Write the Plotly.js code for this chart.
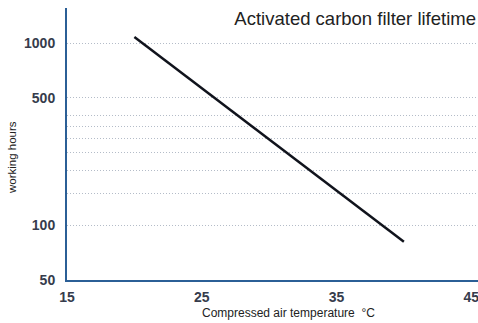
<!DOCTYPE html>
<html>
<head>
<meta charset="utf-8">
<script src="https://cdn.plot.ly/plotly-3.0.1.min.js"></script>
<style>html,body{margin:0;padding:0;background:#fff}#chart{width:478px;height:323px}</style>
</head>
<body>
<div id="chart"></div>
<script>
// Data
const temperatureC = [20, 40];
const workingHours = [1080, 81];
const xTickVals = [15, 25, 35, 45];
const xTickText = ['15', '25', '35', '45'];
const yGridVals = [50, 100, 150, 200, 250, 300, 350, 400, 500, 1000];
const yGridText = ['50', '100', '', '', '', '', '', '', '500', '1000'];
const chartTitle = 'Activated carbon filter lifetime';
const xTitle = 'Compressed air temperature  °C';
const yTitle = 'working hours';

const tickFont = {family: 'Liberation Sans, Arial, sans-serif', size: 14, color: '#363c4c', weight: 'bold'};

const trace = {
  x: temperatureC,
  y: workingHours,
  type: 'scatter',
  mode: 'lines',
  line: {color: '#10131c', width: 2.5},
  hoverinfo: 'skip'
};

const layout = {
  width: 478,
  height: 323,
  margin: {l: 67, r: 0, t: 8, b: 43},
  paper_bgcolor: '#ffffff',
  plot_bgcolor: '#ffffff',
  showlegend: false,
  title: {
    text: chartTitle,
    font: {family: 'Liberation Sans, Arial, sans-serif', size: 18.5, color: '#222222'},
    xref: 'container', x: 476 / 478, xanchor: 'right',
    yref: 'container', y: 1 - 19 / 323, yanchor: 'middle'
  },
  xaxis: {
    range: [15, 45.5],
    tickmode: 'array',
    tickvals: xTickVals,
    ticktext: xTickText,
    showgrid: false,
    zeroline: false,
    showline: true,
    linecolor: '#2b5f96',
    linewidth: 2,
    ticks: '',
    tickfont: tickFont,
    ticklabelstandoff: 3,
    ticklabeloverflow: 'allow'
  },
  yaxis: {
    type: 'log',
    range: [Math.log10(50), 3.193],
    tickmode: 'array',
    tickvals: yGridVals,
    ticktext: yGridText,
    showgrid: true,
    gridcolor: '#b4bcc8',
    griddash: '1px,2px',
    gridwidth: 1,
    zeroline: false,
    showline: true,
    linecolor: '#2b5f96',
    linewidth: 2,
    ticks: '',
    tickfont: tickFont,
    ticklabelstandoff: 7
  },
  annotations: [
    {
      text: yTitle, textangle: -90,
      xref: 'paper', yref: 'paper',
      x: (12 - 67) / 411, y: (280 - 158) / 272,
      xanchor: 'center', yanchor: 'middle', showarrow: false,
      font: {family: 'Liberation Sans, Arial, sans-serif', size: 11.5, color: '#222222'}
    },
    {
      text: xTitle,
      xref: 'paper', yref: 'paper',
      x: (288 - 67) / 411, y: (280 - 313) / 272,
      xanchor: 'center', yanchor: 'middle', showarrow: false,
      font: {family: 'Liberation Sans, Arial, sans-serif', size: 12, color: '#222222'}
    }
  ]
};

Plotly.newPlot('chart', [trace], layout, {staticPlot: true, displayModeBar: false});
</script>
</body>
</html>
